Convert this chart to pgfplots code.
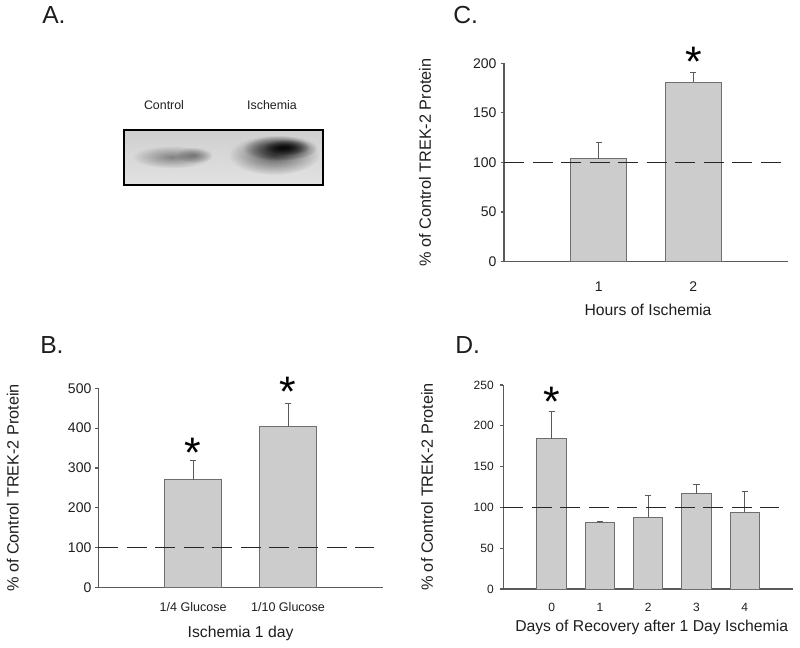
\documentclass[border=0pt]{standalone}
\usepackage{pgfplots}
\pgfplotsset{compat=1.18}
\usepackage{fontspec}
\setmainfont{Liberation Sans}
\usetikzlibrary{fadings}
\tikzfading[name=softblob, inner color=transparent!0, outer color=transparent!100]
\definecolor{barfill}{HTML}{CCCCCC}
\definecolor{baredge}{HTML}{6E6E6E}
\definecolor{axisgray}{HTML}{5A5A5A}
\definecolor{txt}{HTML}{1E1E1E}
\definecolor{bgtop}{HTML}{CFCFCF}
\definecolor{bgbot}{HTML}{E2E2E2}

\pgfplotsset{
  panel/.style={
    scale only axis,
    axis x line=bottom, axis y line=left,
    axis line style={-, draw=axisgray, line width=0.8pt},
    tick align=outside,
    ytick style={draw=axisgray, line width=0.8pt},
    major tick length=2.5pt,
    xtick style={draw=none},
    clip=false,
    ymin=0,
    /pgf/number format/assume math mode=true,
    yticklabel style={anchor=east, inner sep=0pt, text=txt},
    xticklabel style={anchor=center, inner sep=0pt, text=txt},
    every axis y label/.style={rotate=90, anchor=center, font=\fontsize{12.2}{14}\selectfont, text=txt},
    every axis x label/.style={anchor=center, font=\fontsize{11.8}{14}\selectfont, text=txt},
  },
  bars/.style={ybar, bar width=#1, fill=barfill, draw=baredge, line width=0.75pt,
    error bars/y dir=plus, error bars/y explicit,
    error bars/error bar style={draw=axisgray, line width=0.8pt},
    error bars/error mark options={rotate=90, draw=axisgray, line width=0.8pt, mark size=2.3pt}},
  refline/.style={draw=black!85, line width=1.2pt, dash pattern=on 15pt off 6.4pt},
}
\tikzset{star/.style={font=\fontsize{32}{32}\selectfont, anchor=base, inner sep=0pt, yshift=-16pt, text=black}}

\begin{document}
\begin{tikzpicture}
\path[use as bounding box] (0,0) rectangle (600pt,485.25pt);

% ---------- Panel A: blot ----------
\begin{scope}[x=0.75pt, y=-0.75pt, shift={(0pt,485.25pt)}]
  \shade[top color=bgtop, bottom color=bgbot] (124,130) rectangle (323.3,185);
  \fill[black, fill opacity=0.40, path fading=softblob] (172,157) ellipse [x radius=30pt, y radius=8.5pt];
  \fill[black, fill opacity=0.35, path fading=softblob] (194,155) ellipse [x radius=14pt, y radius=6pt];
  \fill[black, fill opacity=0.60, path fading=softblob] (274,155) ellipse [x radius=34pt, y radius=15pt];
  \fill[black, fill opacity=0.85, path fading=softblob] (280,148) ellipse [x radius=28pt, y radius=9.5pt];
  \fill[black, fill opacity=0.75, path fading=softblob] (287,147) ellipse [x radius=17pt, y radius=6pt];
  \draw[black, line width=1.5pt] (124,130) rectangle (323.3,185);
  \node[font=\fontsize{9.3}{11}\selectfont, text=txt] at (164,105) {Control};
  \node[font=\fontsize{9.3}{11}\selectfont, text=txt] at (272,105) {Ischemia};
  \node[anchor=west, inner sep=0pt, font=\fontsize{18.5}{20}\selectfont, text=txt] at (42,15) {A.};
  \node[anchor=west, inner sep=0pt, font=\fontsize{18.5}{20}\selectfont, text=txt] at (40,345) {B.};
  \node[anchor=west, inner sep=0pt, font=\fontsize{18.5}{20}\selectfont, text=txt] at (453,15) {C.};
  \node[anchor=west, inner sep=0pt, font=\fontsize{18.5}{20}\selectfont, text=txt] at (455,345) {D.};
\end{scope}

% ---------- Panel C ----------
\begin{axis}[panel, at={(378pt,289.1pt)}, anchor=south west,
  width=213pt, height=148.6pt, xmin=0, xmax=3, ymax=200,
  ytick={0,50,...,200}, xtick={1,2},
  yticklabel style={font=\fontsize{10.5}{12}\selectfont, xshift=-3pt},
  xticklabel style={font=\fontsize{10.5}{12}\selectfont, yshift=-16.5pt},
  ylabel={\% of Control TREK-2 Protein},
  ylabel style={at={(axis description cs:-0.278,0.5)}},
  xlabel={Hours of Ischemia},
  xlabel style={at={(axis description cs:0.507,-0.246)}}]
\addplot[bars=42pt] coordinates {(1,104) +- (0,16) (2,181) +- (0,10)};
\addplot[refline] coordinates {(0,100) (2.93,100)};
\node[star] at (axis cs:2,208) {*};
\end{axis}

% ---------- Panel B ----------
\begin{axis}[panel, at={(73.7pt,44.6pt)}, anchor=south west,
  width=213.5pt, height=149.4pt, xmin=0, xmax=3, ymax=500,
  ytick={0,100,...,500}, xtick={1,2}, xticklabels={1/4 Glucose, 1/10 Glucose},
  yticklabel style={font=\fontsize{10.5}{12}\selectfont, xshift=-2.5pt},
  xticklabel style={font=\fontsize{9.4}{11}\selectfont, yshift=-12.4pt},
  ylabel={\% of Control TREK-2 Protein},
  ylabel style={at={(axis description cs:-0.30,0.5)}},
  xlabel={Ischemia 1 day},
  xlabel style={at={(axis description cs:0.5,-0.228)}}]
\addplot[bars=42.5pt] coordinates {(1,270) +- (0,48) (2,403) +- (0,59)};
\addplot[refline] coordinates {(0,100) (2.91,100)};
\node[star] at (axis cs:1,355) {*};
\node[star] at (axis cs:2,508) {*};
\end{axis}

% ---------- Panel D ----------
\begin{axis}[panel, at={(377.5pt,43.5pt)}, anchor=south west,
  width=217.3pt, height=153pt, xmin=-1, xmax=5, ymax=250,
  ytick={0,50,...,250}, xtick={0,...,4},
  yticklabel style={font=\fontsize{9}{11}\selectfont, xshift=-4.5pt},
  xticklabel style={font=\fontsize{9}{11}\selectfont, yshift=-11.6pt},
  ylabel={\% of Control TREK-2 Protein},
  ylabel style={at={(axis description cs:-0.263,0.5)}},
  xlabel={Days of Recovery after 1 Day Ischemia},
  xlabel style={at={(axis description cs:0.512,-0.186)}}]
\addplot[bars=22.1pt] coordinates {(0,184) +- (0,33) (1,82) +- (0,0.4) (2,88) +- (0,27) (3,117) +- (0,10.5) (4,94) +- (0,26)};
\addplot[refline] coordinates {(-1,100) (4.71,100)};
\node[star] at (axis cs:0,238) {*};
\end{axis}
\end{tikzpicture}
\end{document}
